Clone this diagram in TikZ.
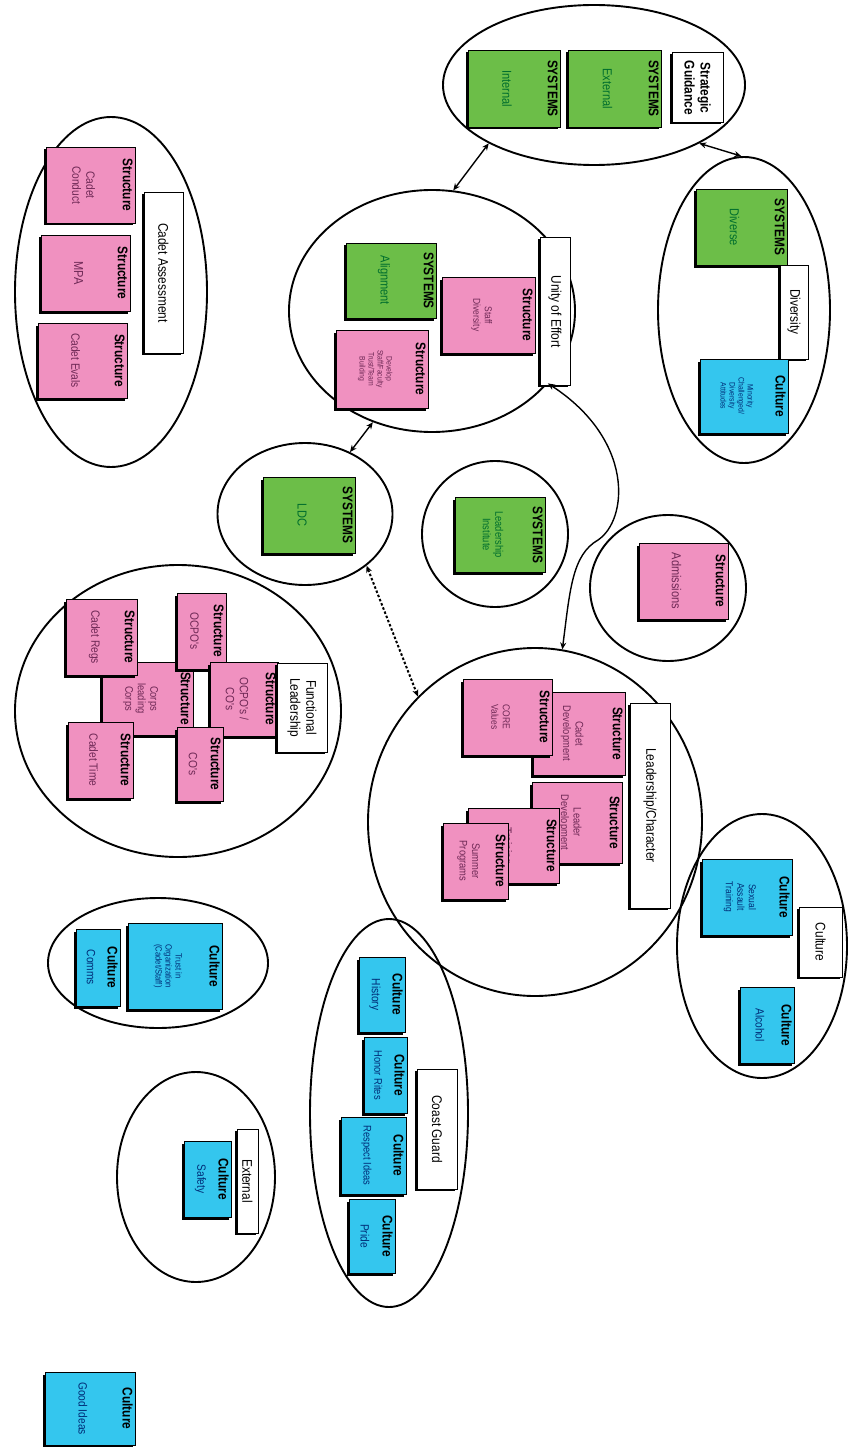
\documentclass[tikz,border=0pt]{standalone}
\usepackage{fontspec}
\setmainfont{Liberation Sans}
\newfontfamily\nsans[FakeStretch=0.85]{Liberation Sans}
\usetikzlibrary{arrows.meta,shapes.geometric,shadows,calc}
\definecolor{sysgreen}{RGB}{108,190,72}
\definecolor{strpink}{RGB}{240,145,192}
\definecolor{culcyan}{RGB}{52,198,238}
\definecolor{systext}{RGB}{0,110,45}
\definecolor{strtext}{RGB}{110,40,85}
\definecolor{cultext}{RGB}{0,45,120}
\tikzset{
  grp/.style={draw, ellipse, line width=1.9pt, inner sep=0pt},
  shad/.style={general shadow={fill=black, shadow xshift=-2.5pt, shadow yshift=-2.5pt}},
  boxbase/.style={draw, line width=0.8pt, inner sep=0pt, shad},
  sysb/.style={fill=sysgreen}, sysc/.style={text=systext},
  strb/.style={fill=strpink}, strc/.style={text=strtext},
  culb/.style={fill=culcyan}, culc/.style={text=cultext},
  hdr/.style={font=\nsans\bfseries\fontsize{14}{16}\selectfont, inner sep=1pt},
  cnt/.style={align=center, inner sep=0pt},
  f13/.style={font=\nsans\fontsize{13}{15}\selectfont},
  f12/.style={font=\nsans\fontsize{12}{14}\selectfont},
  f11/.style={font=\nsans\fontsize{11}{12.5}\selectfont},
  f10/.style={font=\nsans\fontsize{10}{11.5}\selectfont},
  f9/.style={font=\nsans\fontsize{9}{10}\selectfont},
  f8/.style={font=\nsans\fontsize{8}{9}\selectfont},
  labbox/.style={draw, fill=white, line width=1pt, inner sep=0pt, general shadow={fill=black, shadow xshift=-2pt, shadow yshift=-1.5pt}},
  labtxt/.style={font=\nsans\fontsize{14}{16}\selectfont, align=center, inner sep=0pt},
  arr/.style={line width=1.4pt, {Stealth[length=7pt,width=6pt]}-{Stealth[length=7pt,width=6pt]}},
  dotarr/.style={arr, line width=2pt, dash pattern=on 2.5pt off 2pt}
}
% name, type, x1, y1, x2, y2, header, content, content font
\newcommand{\cbox}[9]{%
  \node[boxbase, #2b, minimum width={(#5-#3)*1pt}, minimum height={(#6-#4)*1pt}] (#1) at ({(#3+#5)/2},{(#4+#6)/2}) {};
  \node[hdr, rotate=-90, anchor=north] (#1h) at ([xshift=-1.5pt]#1.east) {#7};
  \node[cnt, #2c, #9, rotate=-90] (#1c) at ($(#1h.south)!0.5!(#1.west)$) {#8};
}
% name, x1, y1, x2, y2, text, font
\newcommand{\lbox}[7]{%
  \node[labbox, minimum width={(#4-#2)*1pt}, minimum height={(#5-#3)*1pt}] (#1) at ({(#2+#4)/2},{(#3+#5)/2}) {};
  \node[labtxt, #7, rotate=-90] (#1t) at (#1.center) {#6};
}
\begin{document}
\begin{tikzpicture}[x=1pt, y=-1pt]
\useasboundingbox (0,0) rectangle (850,1447);

% ---------- group ellipses ----------
\node[grp, minimum width=302pt, minimum height=160pt] (strat) at (594,85) {};
\node[grp, minimum width=286pt, minimum height=242pt] (unity) at (432,311) {};
\node[grp, minimum width=172pt, minimum height=306pt] (diver) at (744,310) {};
\node[grp, minimum width=192pt, minimum height=350pt] (assess) at (111,292) {};
\node[grp, minimum width=175pt, minimum height=142pt] (ldc) at (305,514) {};
\node[grp, minimum width=146pt, minimum height=146pt] (inst) at (495,534) {};
\node[grp, minimum width=156pt, minimum height=146pt] (admis) at (668,588) {};
\node[grp, minimum width=326pt, minimum height=292pt] (func) at (178,711) {};
\node[grp, minimum width=334pt, minimum height=348pt] (lead) at (535,822) {};
\node[grp, minimum width=170pt, minimum height=264pt] (cult) at (762,946) {};
\node[grp, minimum width=220pt, minimum height=130pt] (gang) at (158,963) {};
\node[grp, minimum width=158pt, minimum height=388pt] (coast) at (389,1113) {};
\node[grp, minimum width=158pt, minimum height=210pt] (ext) at (196,1177) {};

% ---------- Strategic Guidance ----------
\cbox{sInt}{sys}{468}{50}{560}{127}{SYSTEMS}{Internal}{f13}
\cbox{sExt}{sys}{568}{50}{661}{127}{SYSTEMS}{External}{f13}
\lbox{lStrat}{672}{53}{723}{123}{\bfseries Strategic\\\bfseries Guidance}{}

% ---------- Unity of Effort ----------
\cbox{uAlign}{sys}{346}{243}{436}{318}{SYSTEMS}{Alignment}{f13}
\cbox{uStaff}{str}{442}{277}{535}{353}{Structure}{Staff\\Diversity}{f10}
\cbox{uDev}{str}{336}{330}{428}{408}{Structure}{Develop\\Staff/Faculty\\Trust/Team\\Building}{f8}
\lbox{lUnity}{540}{238}{570}{385}{Unity of Effort}{}

% ---------- Diversity ----------
\cbox{dDiv}{sys}{696}{189}{787}{265}{SYSTEMS}{Diverse}{f13}
\lbox{lDiv}{780}{265}{808}{359}{Diversity}{}
\cbox{dMin}{cul}{700}{359}{788}{433}{Culture}{Minority\\Challenged/\\Diversity\\Attitudes}{f8}

% ---------- Cadet Assessment ----------
\cbox{aCond}{str}{46}{147}{135}{223}{Structure}{Cadet\\Conduct}{f12}
\cbox{aMPA}{str}{41}{235}{130}{311}{Structure}{MPA}{f13}
\cbox{aEval}{str}{38}{323}{127}{398}{Structure}{Cadet Evals}{f12}
\lbox{lAss}{144}{193}{183}{353}{Cadet Assessment}{}

% ---------- LDC / Institute / Admissions ----------
\cbox{xLDC}{sys}{263}{477}{355}{553}{SYSTEMS}{LDC}{f13}
\cbox{xInst}{sys}{455}{497}{545}{572}{SYSTEMS}{Leadership\\Institute}{f11}
\cbox{xAdm}{str}{639}{543}{728}{619}{Structure}{Admissions}{f13}

% ---------- Functional Leadership ----------
\cbox{fCorps}{str}{102}{662}{193}{735}{Structure}{Corps\\leading\\Corps}{f11}
\cbox{fRegs}{str}{66}{599}{137}{675}{Structure}{Cadet Regs}{f12}
\cbox{fOCPO}{str}{177}{593}{226}{669}{Structure}{OCPO's}{f12}
\cbox{fOCCO}{str}{210}{662}{278}{736}{Structure}{OCPO's /\\CO's}{f12}
\cbox{fTime}{str}{68}{722}{133}{798}{Structure}{Cadet Time}{f12}
\cbox{fCO}{str}{177}{727}{223}{801}{Structure}{CO's}{f12}
\lbox{lFunc}{277}{663}{327}{752}{Functional\\Leadership}{}

% ---------- Leadership/Character ----------
\cbox{cCadet}{str}{533}{692}{625}{775}{Structure}{Cadet\\Development}{f11}
\cbox{cCore}{str}{463}{679}{552}{755}{Structure}{CORE\\Values}{f10}
\cbox{cLeader}{str}{532}{782}{622}{863}{Structure}{Leader\\Development}{f11}
\cbox{cTrain}{str}{468}{808}{559}{883}{Structure}{Training}{f12}
\cbox{cSummer}{str}{443}{823}{508}{899}{Structure}{Summer\\Programs}{f11}
\lbox{lLead}{630}{703}{670}{908}{Leadership/Character}{}

% ---------- Culture ----------
\cbox{kSex}{cul}{702}{859}{792}{935}{Culture}{Sexual\\Assault\\Training}{f10}
\cbox{kAlc}{cul}{740}{987}{794}{1063}{Culture}{Alcohol}{f12}
\lbox{lCul}{799}{907}{842}{977}{Culture}{}

% ---------- Comms / Trust ----------
\cbox{gComms}{cul}{76}{929}{120}{1006}{Culture}{Comms}{f12}
\cbox{gTrust}{cul}{128}{923}{222}{1009}{Culture}{Trust in\\Organization\\(Cadet/Staff)}{f9}

% ---------- Coast Guard ----------
\cbox{gHist}{cul}{359}{957}{405}{1032}{Culture}{History}{f12}
\cbox{gHonor}{cul}{364}{1037}{407}{1113}{Culture}{Honor Rites}{f11}
\cbox{gResp}{cul}{341}{1117}{406}{1194}{Culture}{Respect Ideas}{f11}
\cbox{gPride}{cul}{349}{1199}{395}{1273}{Culture}{Pride}{f12}
\lbox{lCG}{417}{1069}{457}{1189}{Coast Guard}{}

% ---------- External ----------
\cbox{eSafe}{cul}{184}{1141}{231}{1217}{Culture}{Safety}{f12}
\lbox{lExt}{237}{1129}{258}{1233}{External}{}

% ---------- Good Ideas ----------
\cbox{good}{cul}{45}{1372}{135}{1445}{Culture}{Good Ideas}{f12}

% ---------- connectors ----------
\draw[arr] (strat.209.6) -- (unity.80.5);
\draw[arr] (strat.331.6) -- (diver.91.5);
\draw[arr] (unity.242) -- (ldc.54);
\draw[dotarr] (ldc.320) -- (lead.133.8);
\draw[arr] (lead.81) .. controls (570,590) and (572,555) .. (598,540)
           .. controls (628,520) and (635,440) .. (unity.-32);
\end{tikzpicture}
\end{document}
